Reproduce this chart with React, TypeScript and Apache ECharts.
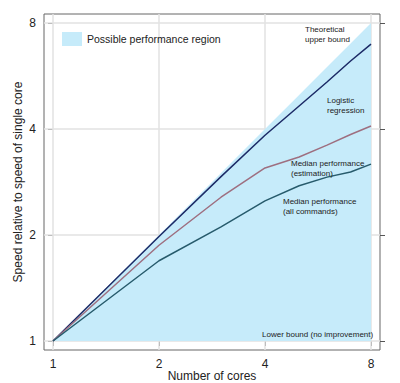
import React, { useEffect, useRef } from "react";
import * as echarts from "echarts";

const cores = [1, 2, 3, 4, 5, 6, 7, 8];
const upperBound = [1, 2, 3, 4, 5, 6, 7, 8];
const logistic = [1, 1.98, 2.93, 3.84, 4.65, 5.44, 6.24, 6.97];
const medianEstimation = [1, 1.87, 2.56, 3.1, 3.33, 3.6, 3.86, 4.08];
const medianAll = [1, 1.69, 2.11, 2.5, 2.76, 2.92, 3.02, 3.18];
const tickValues = [1, 2, 4, 8];

const FONT = "'Liberation Sans', Arial, Helvetica, sans-serif";
const log2 = (v: number) => Math.log2(v);
const toPts = (ys: number[]) => cores.map((c, i) => [log2(c), log2(ys[i])]);
const pad = 9 / 106;
const logTicks = tickValues.map(log2);

export default function App() {
  const ref = useRef<HTMLDivElement>(null);
  useEffect(() => {
    if (!ref.current) return;
    const chart = echarts.init(ref.current, undefined, { renderer: "svg" });
    const fmt = (v: number) => String(Math.round(Math.pow(2, v)));
    const tick = { show: true, inside: false, length: 5, customValues: logTicks, lineStyle: { color: "#555", width: 1 } };
    const txt = (left: number, top: number, text: string) => ({
      type: "text",
      left,
      top,
      z: 100,
      style: { text, fontSize: 8, lineHeight: 10, fill: "#222", fontFamily: FONT },
    });
    const lo = -pad;
    const hi = 3 + pad;
    const gridSeries: any[] = [];
    logTicks.forEach((v, i) => {
      gridSeries.push({
        name: "gx" + i,
        type: "line",
        data: [[v, lo], [v, hi]],
        symbol: "none",
        silent: true,
        lineStyle: { width: 1.5, color: "#e2e2e2" },
        z: 1,
      });
      gridSeries.push({
        name: "gy" + i,
        type: "line",
        data: [[lo, v], [hi, v]],
        symbol: "none",
        silent: true,
        lineStyle: { width: 1.5, color: "#e2e2e2" },
        z: 1,
      });
    });
    chart.setOption({
      animation: false,
      backgroundColor: "#fff",
      textStyle: { fontFamily: FONT },
      grid: {
        left: 44,
        right: 20,
        top: 14,
        bottom: 33,
        outerBoundsMode: "none",
        containLabel: false,
        show: true,
        borderColor: "#666",
        borderWidth: 1,
        backgroundColor: "transparent",
      },
      legend: {
        show: true,
        left: 57,
        top: 27,
        icon: "rect",
        itemWidth: 20,
        itemHeight: 14,
        itemGap: 8,
        textStyle: { fontSize: 10.5, color: "#222", fontFamily: FONT },
        data: ["Possible performance region"],
      },
      xAxis: {
        type: "value",
        min: lo,
        max: hi,
        name: "Number of cores",
        nameLocation: "middle",
        nameGap: 20,
        nameMoveOverlap: false,
        nameTextStyle: { fontSize: 12, color: "#222" },
        axisLine: { show: false },
        axisTick: tick,
        splitLine: { show: false },
        axisLabel: { customValues: logTicks, formatter: fmt, fontSize: 12, color: "#222", margin: 8 },
      },
      yAxis: [
        {
          type: "value",
          min: lo,
          max: hi,
          name: "Speed relative to speed of single core",
          nameLocation: "middle",
          nameGap: 20,
          nameMoveOverlap: false,
          nameTextStyle: { fontSize: 12, color: "#222" },
          axisLine: { show: false },
          axisTick: tick,
          splitLine: { show: false },
          axisLabel: { customValues: logTicks, formatter: fmt, fontSize: 12, color: "#222", margin: 8 },
        },
        {
          type: "value",
          position: "right",
          min: lo,
          max: hi,
          axisLine: { show: false },
          axisTick: tick,
          splitLine: { show: false },
          axisLabel: { show: false },
        },
      ],
      series: [
        ...gridSeries,
        {
          name: "Possible performance region",
          type: "line",
          data: toPts(upperBound),
          symbol: "none",
          lineStyle: { width: 0 },
          itemStyle: { color: "#c6ebfa" },
          areaStyle: { color: "#c6ebfa", opacity: 1, origin: 0 },
          z: 2,
        },
        {
          name: "Logistic regression",
          type: "line",
          data: toPts(logistic),
          symbol: "none",
          lineStyle: { width: 1.5, color: "#1c2a66" },
          z: 3,
        },
        {
          name: "Median performance (estimation)",
          type: "line",
          data: toPts(medianEstimation),
          symbol: "none",
          lineStyle: { width: 1.5, color: "#9e6f80" },
          z: 3,
        },
        {
          name: "Median performance (all commands)",
          type: "line",
          data: toPts(medianAll),
          symbol: "none",
          lineStyle: { width: 1.5, color: "#275b6c" },
          z: 3,
        },
      ],
      graphic: [
        txt(305, 24, "Theoretical\nupper bound"),
        txt(327, 95, "Logistic\nregression"),
        txt(291, 158, "Median performance\n(estimation)"),
        txt(283, 196, "Median performance\n(all commands)"),
        txt(262, 329, "Lower bound (no improvement)"),
      ],
    });
    return () => chart.dispose();
  }, []);
  return <div ref={ref} style={{ position: "fixed", left: 0, top: 0, width: 400, height: 383, background: "#fff" }} />;
}
